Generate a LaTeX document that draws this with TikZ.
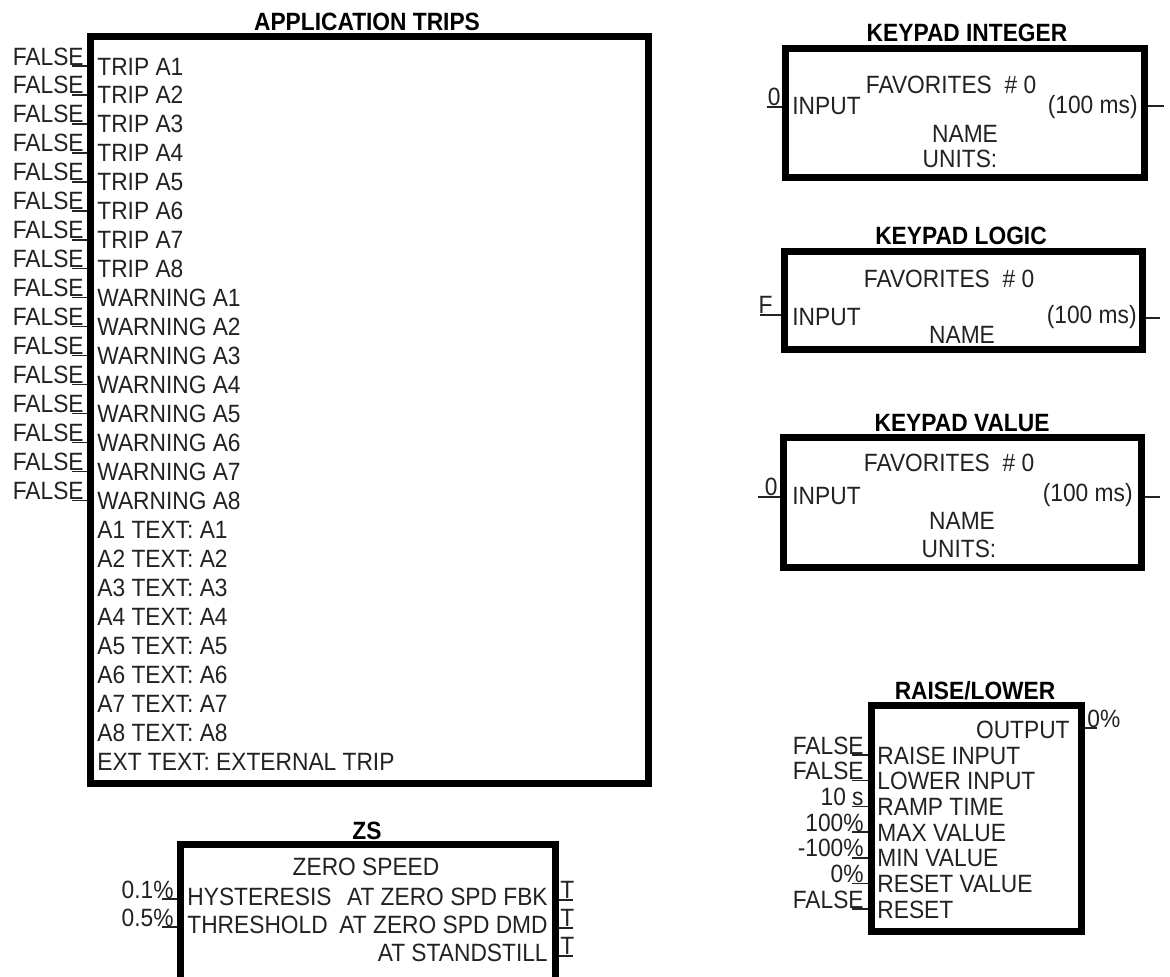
\documentclass[tikz,border=0pt]{standalone}
\usepackage{fontspec}
\setmainfont{Liberation Sans}[FakeStretch=0.91]
\usetikzlibrary{fit}
\definecolor{fbInk}{HTML}{222222}
\newcommand\fbfont{\fontsize{12.5}{14}\selectfont}
\tikzset{
  fb box/.style={draw=black, line width=3.5pt, inner sep=0pt},
  fb pin/.style={draw=fbInk, line width=0.75pt},
  fb title/.style={font=\fbfont\bfseries, text=black, anchor=base, inner sep=0pt},
  fb text/.style={font=\fbfont, text=fbInk, inner sep=0pt},
  fb value/.style={font=\fbfont, text=fbInk, inner sep=0pt, anchor=base east},
}

\begin{document}
\begin{tikzpicture}[x=0.5pt,y=-0.5pt]
  \useasboundingbox (0,0) rectangle (1170,976);
  \clip (0,0) rectangle (1170,976);
  \fill[white] (0,0) rectangle (1170,976);

  \node[fb box, fit={(90,36) (648,783)}] (trips) {};
  \node[fb title] (tripsTitle) at (367,30) {APPLICATION TRIPS};
  \foreach \lab [count=\i] in {TRIP A1,TRIP A2,TRIP A3,TRIP A4,TRIP A5,TRIP A6,TRIP A7,TRIP A8,
      WARNING A1,WARNING A2,WARNING A3,WARNING A4,WARNING A5,WARNING A6,WARNING A7,WARNING A8,
      A1 TEXT: A1,A2 TEXT: A2,A3 TEXT: A3,A4 TEXT: A4,A5 TEXT: A5,A6 TEXT: A6,A7 TEXT: A7,A8 TEXT: A8,
      EXT TEXT: EXTERNAL TRIP} {
    \pgfmathsetmacro\rowy{66+28.96*(\i-1)}
    \node[fb text, anchor=base west] (trow\i) at (97,\rowy+9) {\lab};
  }
  \foreach \i in {1,...,16} {
    \pgfmathsetmacro\rowy{66+28.96*(\i-1)}
    \coordinate (tpin\i) at (72,\rowy);
    \draw[fb pin] (tpin\i) -- (tpin\i -| trips.west);
    \node[fb value] (tval\i) at (84,\rowy-1) {FALSE};
  }

  \node[fb box, fit={(785,48) (1144,177)}] (kint) {};
  \node[fb title] (kintTitle) at (967,41) {KEYPAD INTEGER};
  \node[fb text, anchor=base] (kintFav) at (951,93) {FAVORITES\ \ \# 0};
  \node[fb text, anchor=base west] (kintIn) at (792,114) {INPUT};
  \node[fb text, anchor=base east] (kintRate) at (1138,113) {(100 ms)};
  \node[fb text, anchor=base] (kintName) at (965,142) {NAME};
  \node[fb text, anchor=base] (kintUnits) at (960,167) {UNITS:};
  \coordinate (kintPin) at (767,107);
  \draw[fb pin] (kintPin) -- (kintPin -| kint.west);
  \node[fb value] (kintVal) at (781,105) {0};
  \coordinate (kintOut) at (1164,106);
  \draw[fb pin] (kintOut -| kint.east) -- (kintOut);

  \node[fb box, fit={(784,251) (1142,349)}] (klog) {};
  \node[fb title] (klogTitle) at (961,244) {KEYPAD LOGIC};
  \node[fb text, anchor=base] (klogFav) at (949,287) {FAVORITES\ \ \# 0};
  \node[fb text, anchor=base west] (klogIn) at (792,325) {INPUT};
  \node[fb text, anchor=base east] (klogRate) at (1137,323) {(100 ms)};
  \node[fb text, anchor=base] (klogName) at (962,343) {NAME};
  \coordinate (klogPin) at (760,315);
  \draw[fb pin] (klogPin) -- (klogPin -| klog.west);
  \node[fb value] (klogVal) at (773,313) {F};
  \coordinate (klogOut) at (1160,318);
  \draw[fb pin] (klogOut -| klog.east) -- (klogOut);

  \node[fb box, fit={(783,437) (1141,567)}] (kval) {};
  \node[fb title] (kvalTitle) at (962,431) {KEYPAD VALUE};
  \node[fb text, anchor=base] (kvalFav) at (949,471) {FAVORITES\ \ \# 0};
  \node[fb text, anchor=base west] (kvalIn) at (792,504) {INPUT};
  \node[fb text, anchor=base east] (kvalRate) at (1133,501) {(100 ms)};
  \node[fb text, anchor=base] (kvalName) at (962,529) {NAME};
  \node[fb text, anchor=base] (kvalUnits) at (959,557) {UNITS:};
  \coordinate (kvalPin) at (758,497);
  \draw[fb pin] (kvalPin) -- (kvalPin -| kval.west);
  \node[fb value] (kvalVal) at (778,495) {0};
  \coordinate (kvalOut) at (1160,497);
  \draw[fb pin] (kvalOut -| kval.east) -- (kvalOut);

  \node[fb box, fit={(871,705) (1081,931)}] (rl) {};
  \node[fb title] (rlTitle) at (975,699) {RAISE/LOWER};
  \node[fb text, anchor=base east] (rlOutLab) at (1070,738) {OUTPUT};
  \coordinate (rlOut) at (1097,728);
  \draw[fb pin] (rlOut -| rl.east) -- (rlOut);
  \node[fb text, anchor=base west] (rlOutVal) at (1087,727) {0\%};
  \foreach \lab/\val [count=\i] in {RAISE INPUT/FALSE,LOWER INPUT/FALSE,RAMP TIME/10 s,
      MAX VALUE/100\%,MIN VALUE/-100\%,RESET VALUE/0\%,RESET/FALSE} {
    \pgfmathsetmacro\rowy{755+25.7*(\i-1)}
    \node[fb text, anchor=base west] (rlrow\i) at (877,\rowy+9) {\lab};
    \coordinate (rlpin\i) at (852,\rowy);
    \draw[fb pin] (rlpin\i) -- (rlpin\i -| rl.west);
    \node[fb value] (rlval\i) at (864,\rowy-1) {\val};
  }

  \node[fb box, fit={(180,844) (555,1010)}] (zs) {};
  \node[fb title] (zsTitle) at (367,839) {ZS};
  \node[fb text, anchor=base] (zsName) at (366,875) {ZERO SPEED};
  \foreach \lab/\val [count=\i] in {HYSTERESIS/0.1\%,THRESHOLD/0.5\%} {
    \pgfmathsetmacro\rowy{896+28*(\i-1)}
    \node[fb text, anchor=base west] (zsin\i) at (187,\rowy+9) {\lab};
    \coordinate (zspin\i) at (162,\rowy+3);
    \draw[fb pin] (zspin\i) -- (zspin\i -| zs.west);
    \node[fb value] (zsval\i) at (174,\rowy+2) {\val};
  }
  \foreach \lab [count=\i] in {AT ZERO SPD FBK,AT ZERO SPD DMD,AT STANDSTILL} {
    \pgfmathsetmacro\rowy{896+28*(\i-1)}
    \node[fb text, anchor=base east] (zsout\i) at (548,\rowy+9) {\lab};
    \coordinate (zsopin\i) at (573,\rowy+4);
    \draw[fb pin] (zsopin\i -| zs.east) -- (zsopin\i);
    \node[fb text, anchor=base west] (zsoval\i) at (560,\rowy+2) {T};
  }
\end{tikzpicture}
\end{document}
